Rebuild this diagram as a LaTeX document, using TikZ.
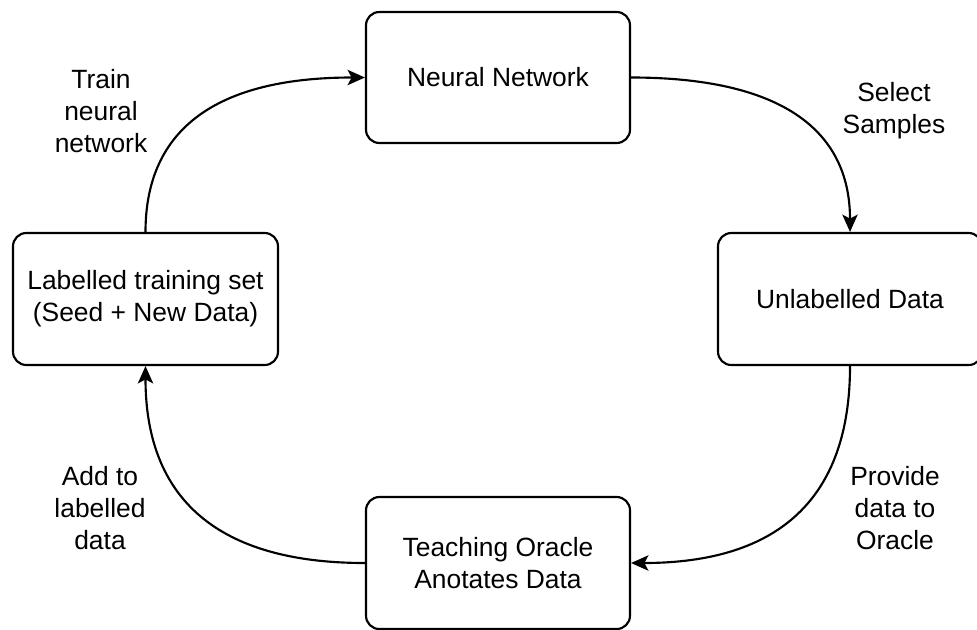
\documentclass[tikz,border=0pt]{standalone}
\usepackage{fontspec}
\setmainfont{Liberation Sans}
\usetikzlibrary{arrows.meta}
\begin{document}
\begin{tikzpicture}[x=0.75pt,y=-0.75pt,
  every node/.style={font=\fontsize{19.8}{24}\selectfont, align=center},
  box/.style={draw, line width=1.6pt, rounded corners=10pt, inner sep=0pt},
  lbl/.style={inner sep=0pt},
  conn/.style={line width=1.6pt, -{Stealth[length=13pt,width=11.5pt,inset=3pt]}}
]
\useasboundingbox (0,0) rectangle (977,629);
\begin{scope}
\clip (0,0) rectangle (977,629);
\node[box, minimum width=198pt, minimum height=98.25pt] (nn) at (498,77.5) {Neural Network};
\node[box, minimum width=198pt, minimum height=99pt] (un) at (850,299) {Unlabelled Data};
\node[box, minimum width=198.75pt, minimum height=99pt] (lab) at (145.5,299) {Labelled training set\\(Seed + New Data)};
\node[box, minimum width=198pt, minimum height=99pt] (or) at (498,563) {Teaching Oracle\\Anotates Data};
\end{scope}

\node[lbl] (l1) at (101,111) {Train\\neural\\network};
\node[lbl] (l2) at (894,111) {Select\\Samples};
\node[lbl] (l3) at (100,508) {Add to\\labelled\\data};
\node[lbl] (l4) at (895,508) {Provide\\data to\\Oracle};

\draw[conn] (lab.north) .. controls +(0,-104) and +(-147,0) .. (nn.west);
\draw[conn] (nn.east) .. controls +(147,0) and +(0,-104) .. (un.north);
\draw[conn] (un.south) .. controls +(0,133) and +(147,0) .. (or.east);
\draw[conn] (or.west) .. controls +(-147,0) and +(0,133) .. (lab.south);
\end{tikzpicture}
\end{document}
